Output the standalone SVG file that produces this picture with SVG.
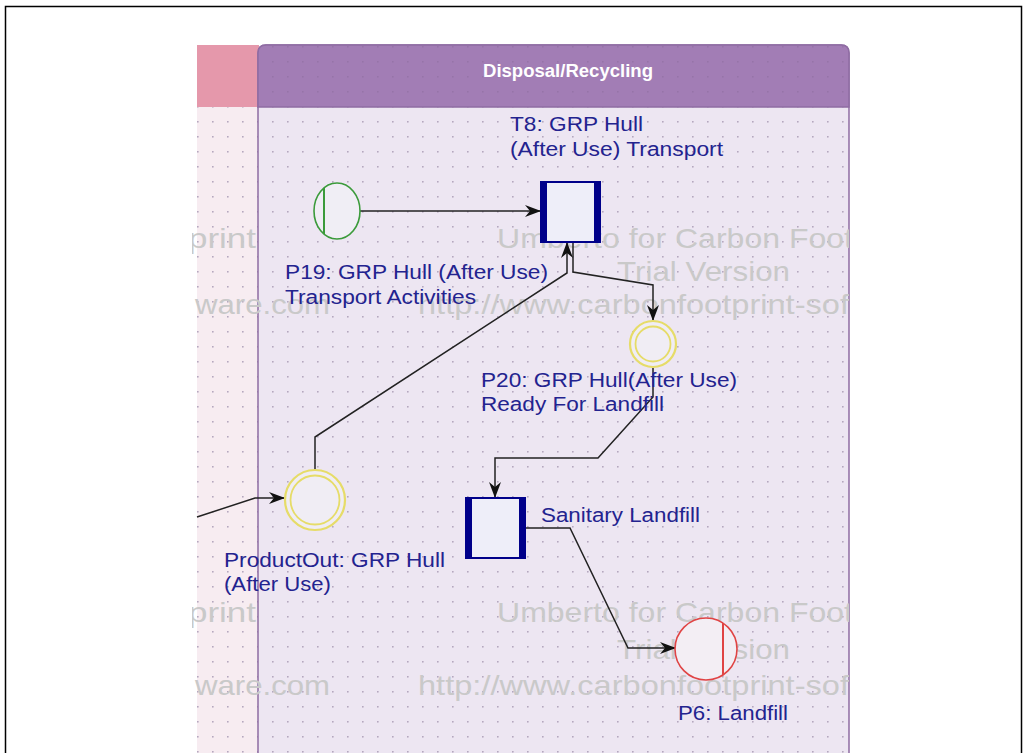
<svg xmlns="http://www.w3.org/2000/svg" width="1028" height="753" viewBox="0 0 1028 753">
<style>
.lbl{font-family:"Liberation Sans",Arial,sans-serif;font-size:20px;fill:#23238f}
.wm{font-family:"Liberation Sans",Arial,sans-serif;font-size:28px;fill:#c9c9c9}
.title{font-family:"Liberation Sans",Arial,sans-serif;font-size:18px;font-weight:bold;fill:#ffffff}
.conn{fill:none;stroke:#222;stroke-width:1.5}
.trans{fill:#eeeef9;stroke:#00008a;stroke-width:2}
.bar{fill:#00008a}
.ring{fill:#f0edf4;stroke:#e6dc68;stroke-width:2.2}
</style>
<defs>
<pattern id="dots" x="2" y="1" width="15" height="15" patternUnits="userSpaceOnUse">
<circle cx="0.8" cy="0.8" r="0.9" fill="#b3a6bd"/>
</pattern>
<pattern id="dotsDark" x="2" y="1" width="15" height="15" patternUnits="userSpaceOnUse">
<circle cx="0.8" cy="0.8" r="0.9" fill="#8a6a9a"/>
</pattern>
<marker id="arr" viewBox="0 0 16 12" refX="15" refY="6" markerWidth="16" markerHeight="12" markerUnits="userSpaceOnUse" orient="auto">
<path d="M0,0 L16,6 L0,12 L5,6 z" fill="#111"/>
</marker>
<clipPath id="wmclip"><rect x="192" y="0" width="657" height="753"/></clipPath>
</defs>
<rect width="1028" height="753" fill="#fff"/>
<rect x="5.5" y="6.5" width="1016" height="800" fill="#fff" stroke="#000" stroke-width="1.5"/>

<g id="lane-left">
<rect x="197" y="45" width="62" height="710" fill="#f7ecf1"/>
<rect x="197" y="45" width="62" height="710" fill="url(#dots)"/>
<rect x="197" y="45" width="62" height="62" fill="#e598ab"/>
</g>
<g id="lane-disposal">
<path d="M258,755 L258,53 Q258,45 266,45 L841,45 Q849,45 849,53 L849,755 Z" fill="#ede6f2" stroke="#8f6ca3" stroke-width="1.5"/>
<rect x="259" y="107" width="589" height="648" fill="url(#dots)"/>
<path d="M258,107 L258,53 Q258,45 266,45 L841,45 Q849,45 849,53 L849,107 Z" fill="#a27db5" stroke="#8f6ca3" stroke-width="1.5"/>
<rect x="259" y="46" width="589" height="60" fill="url(#dotsDark)" opacity="0.5"/>
<text class="title" x="483" y="77" textLength="170" lengthAdjust="spacingAndGlyphs">Disposal/Recycling</text>
</g>

<g id="watermark" clip-path="url(#wmclip)">
<text class="wm" x="497" y="248" textLength="356" lengthAdjust="spacingAndGlyphs">Umberto for Carbon Foot</text>
<text class="wm" x="617" y="281" textLength="173" lengthAdjust="spacingAndGlyphs">Trial Version</text>
<text class="wm" x="418" y="314" textLength="440" lengthAdjust="spacingAndGlyphs">http://www.carbonfootprint-soft</text>
<text class="wm" x="188" y="248" textLength="68" lengthAdjust="spacingAndGlyphs">print</text>
<text class="wm" x="195" y="314" textLength="135" lengthAdjust="spacingAndGlyphs">ware.com</text>
<text class="wm" x="497" y="622" textLength="356" lengthAdjust="spacingAndGlyphs">Umberto for Carbon Foot</text>
<text class="wm" x="617" y="659" textLength="173" lengthAdjust="spacingAndGlyphs">Trial Version</text>
<text class="wm" x="418" y="695" textLength="440" lengthAdjust="spacingAndGlyphs">http://www.carbonfootprint-soft</text>
<text class="wm" x="188" y="622" textLength="68" lengthAdjust="spacingAndGlyphs">print</text>
<text class="wm" x="195" y="695" textLength="135" lengthAdjust="spacingAndGlyphs">ware.com</text>
</g>

<g id="connectors">
<path class="conn" d="M360,211 L540,211" marker-end="url(#arr)"/>
<path class="conn" d="M315,470 L315,437 L567,273 L567,243" marker-end="url(#arr)"/>
<path class="conn" d="M573,243 L573,272 L653,285 L653,320" marker-end="url(#arr)"/>
<path class="conn" d="M653,368 L653,397 L598,458 L495,458 L495,497" marker-end="url(#arr)"/>
<path class="conn" d="M525,528 L570,528 L628,648 L675,648" marker-end="url(#arr)"/>
<path class="conn" d="M197,517 L255,498 L284,498" marker-end="url(#arr)"/>
</g>

<g id="node-P19">
<ellipse cx="337" cy="211" rx="23" ry="28" fill="#f0eef5" stroke="#3b9b3b" stroke-width="1.6"/>
<line x1="324" y1="188" x2="324" y2="234" stroke="#3b9b3b" stroke-width="2"/>
<text class="lbl" x="285" y="279" textLength="263" lengthAdjust="spacingAndGlyphs">P19: GRP Hull (After Use)</text>
<text class="lbl" x="285" y="304" textLength="191" lengthAdjust="spacingAndGlyphs">Transport Activities</text>
</g>

<g id="node-T8">
<rect class="trans" x="541" y="182" width="59" height="60"/>
<rect class="bar" x="540" y="181" width="7" height="62"/>
<rect class="bar" x="594" y="181" width="7" height="62"/>
<text class="lbl" x="510" y="131" textLength="133" lengthAdjust="spacingAndGlyphs">T8: GRP Hull</text>
<text class="lbl" x="510" y="156" textLength="213" lengthAdjust="spacingAndGlyphs">(After Use) Transport</text>
</g>

<g id="node-P20">
<circle class="ring" cx="653" cy="344" r="23"/>
<circle cx="653" cy="344" r="17.5" fill="none" stroke="#e6dc68" stroke-width="1.8"/>
<text class="lbl" x="481" y="387" textLength="256" lengthAdjust="spacingAndGlyphs">P20: GRP Hull(After Use)</text>
<text class="lbl" x="481" y="411" textLength="183" lengthAdjust="spacingAndGlyphs">Ready For Landfill</text>
</g>

<g id="node-ProductOut">
<circle class="ring" cx="315" cy="500" r="30"/>
<circle cx="315" cy="500" r="24.5" fill="none" stroke="#e6dc68" stroke-width="1.8"/>
<text class="lbl" x="224" y="567" textLength="221" lengthAdjust="spacingAndGlyphs">ProductOut: GRP Hull</text>
<text class="lbl" x="224" y="591" textLength="107" lengthAdjust="spacingAndGlyphs">(After Use)</text>
</g>

<g id="node-Sanitary">
<rect class="trans" x="466" y="498" width="59" height="60"/>
<rect class="bar" x="465" y="497" width="7" height="62"/>
<rect class="bar" x="519" y="497" width="7" height="62"/>
<text class="lbl" x="541" y="522" textLength="159" lengthAdjust="spacingAndGlyphs">Sanitary Landfill</text>
</g>

<g id="node-P6">
<circle cx="706" cy="649" r="31" fill="#f3eef4" stroke="#e04444" stroke-width="1.6"/>
<line x1="723" y1="623" x2="723" y2="675" stroke="#e04444" stroke-width="2"/>
<text class="lbl" x="678" y="720" textLength="110" lengthAdjust="spacingAndGlyphs">P6: Landfill</text>
</g>
</svg>
